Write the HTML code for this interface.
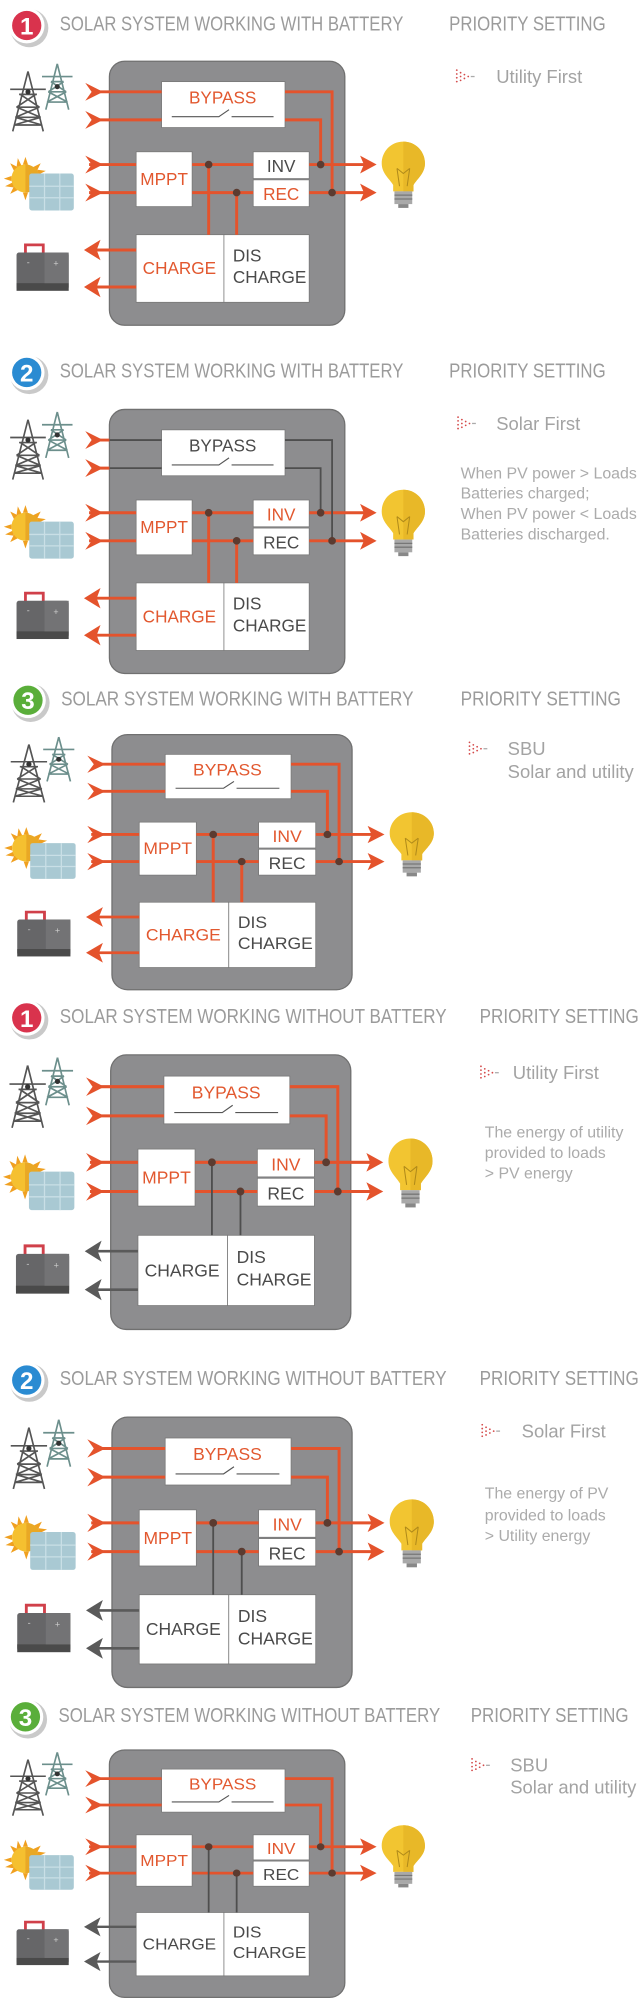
<!DOCTYPE html>
<html><head><meta charset="utf-8"><style>
html,body{margin:0;padding:0;background:#fff;}
svg{display:block;}
text{font-family:"Liberation Sans",sans-serif;}
.t{fill:#9b9b9b;font-size:16px;}
.r{fill:#a3a3a3;font-size:14.5px;}
.d{fill:#ababab;font-size:12.5px;}
.bx{font-size:13.5px;text-anchor:middle;}
.o{fill:#e2582f;}
.k{fill:#4a4a4a;}
.ol{stroke:#e4532c;stroke-width:2.3;fill:none;}
.gl{stroke:#4e4e4e;stroke-width:1.4;fill:none;}
.n{font-size:19px;font-weight:bold;fill:#fff;text-anchor:middle;}
</style></head><body>
<svg width="640" height="2000" viewBox="0 0 503 1568" preserveAspectRatio="none" xmlns="http://www.w3.org/2000/svg">
<defs>
  <g id="tower">
    <g stroke="#555" stroke-width="1.3" fill="none">
      <path d="M22 56 L10 103 M22 56 L34 103 M15 74 L29 74 M13 84 L31 84 M12 92 L32 92 M11 98 L33 98 M16 74 L31 84 M28 74 L13 84 M13 84 L32 92 M31 84 L12 92 M12 92 L33 98 M32 92 L11 98 M8 70 L36 70"/>
    </g>
    <g stroke="#6c8f8c" stroke-width="1.3" fill="none">
      <path d="M45 50 L36 86 M45 50 L54 86 M40 64 L50 64 M38 72 L52 72 M37 80 L53 80 M40 64 L52 72 M50 64 L38 72 M38 72 L53 80 M52 72 L37 80 M33 60 L57 60"/>
    </g>
    <circle cx="22" cy="72" r="2" fill="#333"/><circle cx="45" cy="68" r="2" fill="#333"/>
  </g>
  <g id="sun">
    <g transform="translate(20,140)" fill="#f0a020">
      <polygon points="0,-17 2,-11 -2,-11"/><polygon points="0,17 2,11 -2,11"/>
      <polygon points="-17,0 -11,2 -11,-2"/><polygon points="17,0 11,2 11,-2"/>
      <polygon points="-12,-12 -6,-9 -9,-6"/><polygon points="12,12 6,9 9,6"/>
      <polygon points="12,-12 6,-9 9,-6"/><polygon points="-12,12 -6,9 -9,6"/>
      <polygon points="-6,-16 -3,-10 -7,-9"/><polygon points="6,16 3,10 7,9"/>
      <polygon points="-16,6 -10,3 -9,7"/><polygon points="16,-6 10,-3 9,-7"/>
    </g>
    <circle cx="20" cy="140" r="11" fill="#f5c030"/>
    <path d="M20 129 A11 11 0 0 1 20 151 Z" fill="#e9a825"/>
    <rect x="23" y="136" width="35" height="29" rx="2" fill="#a9c9d3"/>
    <g stroke="#c9dfe6" stroke-width="1"><path d="M35 136 V165 M47 136 V165 M23 146 H58 M23 155 H58"/></g>
  </g>
  <g id="batt">
    <path d="M20 199 V192 H34 V199" stroke="#d0404a" stroke-width="2.2" fill="none"/>
    <rect x="13" y="198" width="41" height="29" rx="2" fill="#666668"/>
    <rect x="13" y="222" width="41" height="6" fill="#4a4a4a"/>
    <rect x="35" y="198" width="19" height="24" fill="#737375"/>
    <text x="21" y="208" font-size="7" fill="#ccc">-</text>
    <text x="42" y="209" font-size="7" fill="#ccc">+</text>
  </g>
  <g id="bulb">
    <path d="M317 111 C307 111 300 119 300 128 C300 136 306 140 309 145 L309 150 L325 150 L325 145 C328 140 334 136 334 128 C334 119 327 111 317 111 Z" fill="#f2c531"/>
    <path d="M317 111 C327 111 334 119 334 128 C334 136 328 140 325 145 L325 150 L317 150 Z" fill="#e8b828"/>
    <path d="M312 132 L314 146 M322 132 L320 146 M312 132 L317 136 L322 132" stroke="#b08a1a" stroke-width="0.8" fill="none"/>
    <rect x="310" y="150" width="14" height="10" fill="#a9a9a9"/>
    <g stroke="#777" stroke-width="1"><path d="M310 153 H324 M310 156 H324"/></g>
    <rect x="313" y="160" width="8" height="3" fill="#888"/>
  </g>
  <g id="base">
    <rect x="86" y="48" width="185" height="207" rx="12" fill="#8d8d8f" stroke="#707070" stroke-width="1"/>
    <rect x="127" y="64" width="97" height="36" fill="#fff" stroke="#777" stroke-width="0.6"/>
    <path d="M135 91.5 H172 L180 86 M182 91.5 H215" stroke="#555" stroke-width="0.9" fill="none"/>
    <rect x="107" y="119" width="44" height="43" fill="#fff" stroke="#777" stroke-width="0.6"/>
    <rect x="199" y="119" width="44" height="21" fill="#fff" stroke="#777" stroke-width="0.6"/>
    <rect x="199" y="141" width="44" height="21" fill="#fff" stroke="#777" stroke-width="0.6"/>
    <rect x="107" y="184" width="69" height="53" fill="#fff" stroke="#777" stroke-width="0.6"/>
    <rect x="176" y="184" width="67" height="53" fill="#fff" stroke="#777" stroke-width="0.6"/>
    <path class="ol" d="M70 129 H107 M151 129 H199 M70 151 H107 M151 151 H199 M243 129 H287 M243 151 H287"/>
    <g fill="#e4532c">
      <polygon points="67,65 81,72 67,79 72,72"/><polygon points="67,87 81,94 67,101 72,94"/>
      <polygon points="67,122 81,129 67,136 72,129"/><polygon points="67,144 81,151 67,158 72,151"/>
      <polygon points="283,122 296,129 283,136 286,129"/><polygon points="283,144 296,151 283,158 286,151"/>
    </g>
    <use href="#tower"/><use href="#sun"/><use href="#batt"/><use href="#bulb"/>
  </g>
  <g id="bypO"><path class="ol" d="M76 72 H127 M224 72 H261 V151 M76 94 H127 M224 94 H252 V129"/></g>
  <g id="bypG"><path class="ol" d="M76 72 H86 M76 94 H86"/><path class="gl" d="M86 72 H127 M224 72 H261 V151 M86 94 H127 M224 94 H252 V129"/></g>
  <g id="chO"><path class="ol" d="M164 129 V184 M186 151 V184 M107 196 H72 M107 225 H72"/>
    <g fill="#e4532c"><polygon points="79,188 66,196 79,204 76,196"/><polygon points="79,217 66,225 79,233 76,225"/></g></g>
  <g id="chG"><path class="gl" d="M164 129 V184 M186 151 V184"/><path d="M107 196 H72 M107 225 H72" stroke="#5a5a5a" stroke-width="2" fill="none"/>
    <g fill="#5a5a5a"><polygon points="79,188 66,196 79,204 76,196"/><polygon points="79,217 66,225 79,233 76,225"/></g></g>
  <g id="dots" fill="#5b3b30"><circle cx="164" cy="129" r="3"/><circle cx="186" cy="151" r="3"/><circle cx="252" cy="129" r="3"/><circle cx="261" cy="151" r="3"/></g>
  <g id="pic"><g fill="#d44a4a"><circle cx="0" cy="0" r="0.7"/><circle cx="0" cy="3" r="0.7"/><circle cx="0" cy="6" r="0.7"/><circle cx="0" cy="9" r="0.7"/><circle cx="3" cy="2" r="0.7"/><circle cx="3" cy="5" r="0.7"/><circle cx="3" cy="8" r="0.7"/><circle cx="6" cy="3.5" r="0.7"/><circle cx="6" cy="6.5" r="0.7"/><circle cx="9" cy="5" r="0.7"/></g><rect x="11" y="4.5" width="3" height="1" fill="#aaa"/></g>
</defs>

<g>
  <circle cx="23" cy="22" r="15" fill="#c9c9c9"/><circle cx="21" cy="20" r="14" fill="#fff"/><circle cx="21" cy="20" r="11.5" fill="#d9334d"/><text class="n" x="21" y="27">1</text>
  <text class="t" x="47" y="24" textLength="270" lengthAdjust="spacingAndGlyphs">SOLAR SYSTEM WORKING WITH BATTERY</text>
  <text class="t" x="353" y="24" textLength="123" lengthAdjust="spacingAndGlyphs">PRIORITY SETTING</text>
  <use href="#pic" x="359" y="55"/><text class="r" x="390" y="65">Utility First</text>
</g>
<g>
  <circle cx="23" cy="294" r="15" fill="#c9c9c9"/><circle cx="21" cy="292" r="14" fill="#fff"/><circle cx="21" cy="292" r="11.5" fill="#2a8bd2"/><text class="n" x="21" y="299">2</text>
  <text class="t" x="47" y="296" textLength="270" lengthAdjust="spacingAndGlyphs">SOLAR SYSTEM WORKING WITH BATTERY</text>
  <text class="t" x="353" y="296" textLength="123" lengthAdjust="spacingAndGlyphs">PRIORITY SETTING</text>
  <use href="#pic" x="360" y="327"/><text class="r" x="390" y="337">Solar First</text>
  <text class="d" x="362" y="375">When PV power &gt; Loads</text>
  <text class="d" x="362" y="391">Batteries charged;</text>
  <text class="d" x="362" y="407">When PV power &lt; Loads</text>
  <text class="d" x="362" y="423">Batteries discharged.</text>
</g>
<g>
  <circle cx="24" cy="551" r="15" fill="#c9c9c9"/><circle cx="22" cy="549" r="14" fill="#fff"/><circle cx="22" cy="549" r="11.5" fill="#5aae3a"/><text class="n" x="22" y="556">3</text>
  <text class="t" x="48" y="553" textLength="277" lengthAdjust="spacingAndGlyphs">SOLAR SYSTEM WORKING WITH BATTERY</text>
  <text class="t" x="362" y="553" textLength="126" lengthAdjust="spacingAndGlyphs">PRIORITY SETTING</text>
  <use href="#pic" x="369" y="582"/><text class="r" x="399" y="592">SBU</text>
  <text class="r" x="399" y="610">Solar and utility</text>
</g>
<g>
  <circle cx="23" cy="800" r="15" fill="#c9c9c9"/><circle cx="21" cy="798" r="14" fill="#fff"/><circle cx="21" cy="798" r="11.5" fill="#d9334d"/><text class="n" x="21" y="805">1</text>
  <text class="t" x="47" y="802" textLength="304" lengthAdjust="spacingAndGlyphs">SOLAR SYSTEM WORKING WITHOUT BATTERY</text>
  <text class="t" x="377" y="802" textLength="125" lengthAdjust="spacingAndGlyphs">PRIORITY SETTING</text>
  <use href="#pic" x="378" y="836"/><text class="r" x="403" y="846">Utility First</text>
  <text class="d" x="381" y="892">The energy of utility</text>
  <text class="d" x="381" y="908">provided to loads</text>
  <text class="d" x="381" y="924">&gt; PV energy</text>
</g>
<g>
  <circle cx="23" cy="1084" r="15" fill="#c9c9c9"/><circle cx="21" cy="1082" r="14" fill="#fff"/><circle cx="21" cy="1082" r="11.5" fill="#2a8bd2"/><text class="n" x="21" y="1089">2</text>
  <text class="t" x="47" y="1086" textLength="304" lengthAdjust="spacingAndGlyphs">SOLAR SYSTEM WORKING WITHOUT BATTERY</text>
  <text class="t" x="377" y="1086" textLength="125" lengthAdjust="spacingAndGlyphs">PRIORITY SETTING</text>
  <use href="#pic" x="379" y="1117"/><text class="r" x="410" y="1127">Solar First</text>
  <text class="d" x="381" y="1175">The energy of PV</text>
  <text class="d" x="381" y="1192">provided to loads</text>
  <text class="d" x="381" y="1208">&gt; Utility energy</text>
</g>
<g>
  <circle cx="22" cy="1348" r="15" fill="#c9c9c9"/><circle cx="20" cy="1346" r="14" fill="#fff"/><circle cx="20" cy="1346" r="11.5" fill="#5aae3a"/><text class="n" x="20" y="1353">3</text>
  <text class="t" x="46" y="1350" textLength="300" lengthAdjust="spacingAndGlyphs">SOLAR SYSTEM WORKING WITHOUT BATTERY</text>
  <text class="t" x="370" y="1350" textLength="124" lengthAdjust="spacingAndGlyphs">PRIORITY SETTING</text>
  <use href="#pic" x="371" y="1379"/><text class="r" x="401" y="1389">SBU</text>
  <text class="r" x="401" y="1406">Solar and utility</text>
</g>

<g>
  <use href="#base"/><use href="#bypO"/><use href="#chO"/><use href="#dots"/>
  <text class="bx o" x="175" y="81">BYPASS</text><text class="bx o" x="129" y="145">MPPT</text>
  <text class="bx k" x="221" y="135">INV</text><text class="bx o" x="221" y="157">REC</text>
  <text class="bx o" x="141" y="215">CHARGE</text>
  <text class="k" font-size="13.5" x="183" y="205">DIS</text><text class="k" font-size="13.5" x="183" y="222">CHARGE</text>
</g>
<g transform="translate(0,273)">
  <use href="#base"/><use href="#bypG"/><use href="#chO"/><use href="#dots"/>
  <text class="bx k" x="175" y="81">BYPASS</text><text class="bx o" x="129" y="145">MPPT</text>
  <text class="bx o" x="221" y="135">INV</text><text class="bx k" x="221" y="157">REC</text>
  <text class="bx o" x="141" y="215">CHARGE</text>
  <text class="k" font-size="13.5" x="183" y="205">DIS</text><text class="k" font-size="13.5" x="183" y="222">CHARGE</text>
</g>
<g transform="translate(0.28,529.6) scale(1.02,0.966)">
  <use href="#base"/><use href="#bypO"/><use href="#chO"/><use href="#dots"/>
  <text class="bx o" x="175" y="81">BYPASS</text><text class="bx o" x="129" y="145">MPPT</text>
  <text class="bx o" x="221" y="135">INV</text><text class="bx k" x="221" y="157">REC</text>
  <text class="bx o" x="141" y="215">CHARGE</text>
  <text class="k" font-size="13.5" x="183" y="205">DIS</text><text class="k" font-size="13.5" x="183" y="222">CHARGE</text>
</g>
<g transform="translate(-0.72,777.1) scale(1.02,1.04)">
  <use href="#base"/><use href="#bypO"/><use href="#chG"/><use href="#dots"/>
  <text class="bx o" x="175" y="81">BYPASS</text><text class="bx o" x="129" y="145">MPPT</text>
  <text class="bx o" x="221" y="135">INV</text><text class="bx k" x="221" y="157">REC</text>
  <text class="bx k" x="141" y="215">CHARGE</text>
  <text class="k" font-size="13.5" x="183" y="205">DIS</text><text class="k" font-size="13.5" x="183" y="222">CHARGE</text>
</g>
<g transform="translate(0.28,1061.85) scale(1.02,1.024)">
  <use href="#base"/><use href="#bypO"/><use href="#chG"/><use href="#dots"/>
  <text class="bx o" x="175" y="81">BYPASS</text><text class="bx o" x="129" y="145">MPPT</text>
  <text class="bx o" x="221" y="135">INV</text><text class="bx k" x="221" y="157">REC</text>
  <text class="bx k" x="141" y="215">CHARGE</text>
  <text class="k" font-size="13.5" x="183" y="205">DIS</text><text class="k" font-size="13.5" x="183" y="222">CHARGE</text>
</g>
<g transform="translate(0,1327) scale(1,0.937)">
  <use href="#base"/><use href="#bypO"/><use href="#chG"/><use href="#dots"/>
  <text class="bx o" x="175" y="81">BYPASS</text><text class="bx o" x="129" y="145">MPPT</text>
  <text class="bx o" x="221" y="135">INV</text><text class="bx k" x="221" y="157">REC</text>
  <text class="bx k" x="141" y="215">CHARGE</text>
  <text class="k" font-size="13.5" x="183" y="205">DIS</text><text class="k" font-size="13.5" x="183" y="222">CHARGE</text>
</g>
</svg>
</body></html>
